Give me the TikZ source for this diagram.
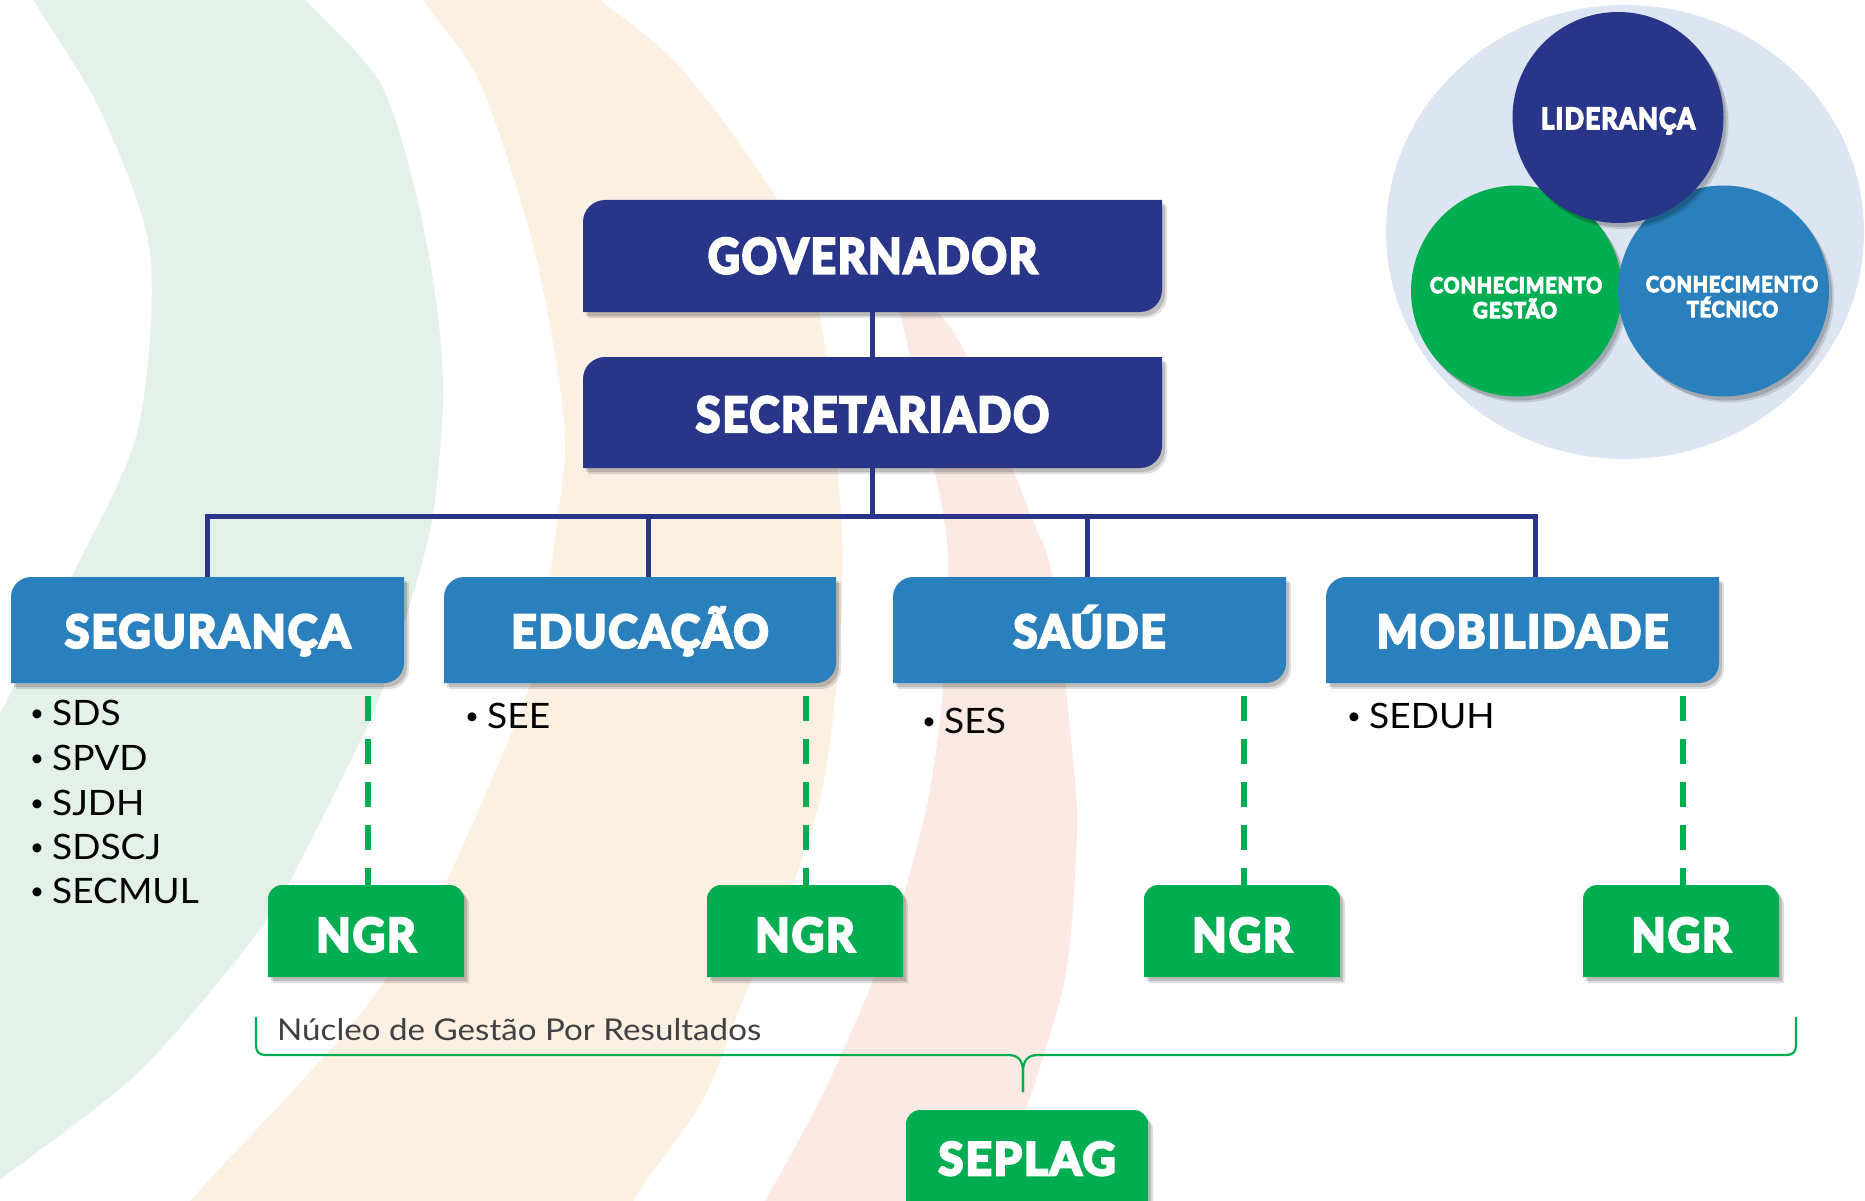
\documentclass[tikz,border=0pt]{standalone}
\usepackage{fontspec}
\setmainfont{Lato}
\newfontfamily\hfont[BoldFeatures={FakeBold=6,LetterSpace=5}]{Lato}
\usepackage{graphicx}
\usetikzlibrary{shadows}
\definecolor{navy}{HTML}{283589}
\definecolor{midblue}{HTML}{2980BD}
\definecolor{ngreen}{HTML}{00AE51}
\definecolor{bggreen}{HTML}{E4F1E9}
\definecolor{bgorange}{HTML}{FCF0E3}
\definecolor{bgpink}{HTML}{FAEAE3}
\definecolor{bgblue}{HTML}{DCE5F1}
\definecolor{txtgray}{HTML}{414042}
\newcommand\boxA[6]{\fill[#6] (#1,#4) -- (#1,#2+#5) .. controls (#1,#2+0.45*#5) and (#1+0.45*#5,#2) .. (#1+#5,#2) -- (#3,#2) -- (#3,#4-#5) .. controls (#3,#4-0.45*#5) and (#3-0.45*#5,#4) .. (#3-#5,#4) -- cycle;}
\newcommand\boxB[6]{\fill[#6] (#1,#4) -- (#1,#2+#5) .. controls (#1,#2+0.45*#5) and (#1+0.45*#5,#2) .. (#1+#5,#2) -- (#3-#5,#2) .. controls (#3-0.45*#5,#2) and (#3,#2+0.45*#5) .. (#3,#2+#5) -- (#3,#4) -- cycle;}
\newcommand\hd[3]{\fontsize{#1}{#1}\selectfont\resizebox{#2pt}{\height}{#3}}
\newcommand\itm[1]{\makebox[22pt][l]{\raisebox{4pt}{\fontsize{24}{24}\selectfont\textbullet}}\scalebox{1.06}[1]{#1}}
\tikzset{
  sh/.style={drop shadow={shadow xshift=3pt, shadow yshift=-4pt, opacity=0.16, fill=black},
             drop shadow={shadow xshift=5pt, shadow yshift=-6pt, opacity=0.12, fill=black}},
  lbl/.style={inner sep=0pt, outer sep=0pt, text=white, font=\hfont\bfseries},
  busline/.style={draw=navy, line width=5pt},
  dashln/.style={draw=ngreen, line width=6pt, dash pattern=on 25pt off 18pt},
  listtxt/.style={inner sep=0pt, anchor=base west, font=\fontsize{35}{35}\selectfont},
  brace/.style={draw=ngreen, line width=2.2pt},
  ctext/.style={inner sep=0pt, anchor=base, text=white, font=\hfont\bfseries},
  bigcirc/.style={circle, inner sep=0pt, minimum size=211pt, sh}
}
\begin{document}
\begin{tikzpicture}[x=1pt,y=-1pt]
\useasboundingbox (0,0) rectangle (1865,1201);
% ---------- background bands
\begin{scope}
\clip (0,0) rectangle (1865,1201);
\fill[bggreen] plot[smooth] coordinates {(25,-40) (34,0) (100,110) (150,253) (138,429) (77,566) (0,713) (-40,780)} -- (-60,1260) -- plot[smooth] coordinates {(-60,1230) (0,1180) (130,1080) (220,980) (283,893) (370,720) (405,620) (432,520) (443,400) (436,300) (415,190) (380,83) (306,0) (270,-40)} -- cycle;
\fill[bgorange] plot[smooth] coordinates {(400,-40) (423,0) (480,83) (530,233) (557,367) (565,450) (555,536) (538,659) (500,760) (440,893) (371,1000) (300,1083) (240,1147) (190,1201) (150,1250)} -- plot[smooth] coordinates {(600,1260) (640,1190) (703,1100) (743,1000) (787,900) (820,800) (835,700) (842,600) (840,500) (820,317) (777,200) (680,67) (600,0) (550,-40)} -- cycle;
\fill[bgpink] plot[smooth] coordinates {(893,262) (900,310) (910,357) (943,513) (948,580) (942,700) (928,800) (902,900) (865,1000) (820,1100) (765,1201) (735,1250)} -- plot[smooth] coordinates {(950,1250) (985,1201) (1017,1133) (1040,1067) (1067,967) (1077,833) (1073,760) (1053,580) (1030,513) (967,357) (937,310) (905,265)} -- cycle;
\fill[bgblue] (1625,232) ellipse [x radius=239, y radius=227];
\end{scope}
% ---------- venn circles
\node[bigcirc, fill=ngreen] (cgest) at (1516.5,291) {};
\node[bigcirc, fill=midblue] (ctec) at (1723.5,291) {};
\node[bigcirc, fill=navy] (clid) at (1618,117.5) {};
\node[ctext, font=\hfont\bfseries\fontsize{29.3}{29.3}\selectfont] (tlid) at (1618,129) {\resizebox{154pt}{\height}{LIDERANÇA}};
\node[ctext, font=\hfont\bfseries\fontsize{21.6}{21.6}\selectfont] (tg1) at (1516,293) {\resizebox{172pt}{\height}{CONHECIMENTO}};
\node[ctext, font=\hfont\bfseries\fontsize{21.6}{21.6}\selectfont] (tg2) at (1515,318) {\resizebox{84pt}{\height}{GESTÃO}};
\node[ctext, font=\hfont\bfseries\fontsize{21.6}{21.6}\selectfont] (tt1) at (1732,292) {\resizebox{172pt}{\height}{CONHECIMENTO}};
\node[ctext, font=\hfont\bfseries\fontsize{21.6}{21.6}\selectfont] (tt2) at (1732.5,317) {\resizebox{91pt}{\height}{TÉCNICO}};
% ---------- box shapes
\boxA{583}{200}{1162}{312}{22}{navy, sh}
\boxA{583}{357}{1162}{468}{22}{navy, sh}
\boxA{11}{577}{404}{683}{20}{midblue, sh}
\boxA{444}{577}{836}{683}{20}{midblue, sh}
\boxA{893}{577}{1286}{683}{20}{midblue, sh}
\boxA{1326}{577}{1719}{683}{20}{midblue, sh}
\boxB{268}{885}{464}{977}{14}{ngreen, sh}
\boxB{707}{885}{903}{977}{14}{ngreen, sh}
\boxB{1144}{885}{1340}{977}{14}{ngreen, sh}
\boxB{1583}{885}{1779}{977}{14}{ngreen, sh}
\boxB{906}{1110}{1148}{1215}{14}{ngreen, sh}
% ---------- box nodes
\node[lbl, minimum width=579pt, minimum height=112pt, text height=34.4pt, text depth=0pt] (gov) at (872.5,256) {\hd{48}{329}{GOVERNADOR}};
\node[lbl, minimum width=579pt, minimum height=111pt, text height=38.5pt, text depth=0pt] (sec) at (872.5,412.5) {\hd{48}{353}{SECRETARIADO}};
\node[lbl, minimum width=393pt, minimum height=106pt, text height=35pt, text depth=0pt] (seg) at (207.5,630) {\hd{45}{285}{SEGURANÇA}};
\node[lbl, minimum width=392pt, minimum height=106pt, text height=35pt, text depth=0pt] (edu) at (640,630) {\hd{45}{257}{EDUCAÇÃO}};
\node[lbl, minimum width=393pt, minimum height=106pt, text height=35pt, text depth=0pt] (sau) at (1089.5,630) {\hd{45}{152}{SAÚDE}};
\node[lbl, minimum width=393pt, minimum height=106pt, text height=35pt, text depth=0pt] (mob) at (1522.5,630) {\hd{45}{291}{MOBILIDADE}};
\node[lbl, minimum width=196pt, minimum height=92pt, text height=41pt, text depth=0pt] (ngr1) at (366,931) {\hd{46}{99}{NGR}};
\node[lbl, minimum width=196pt, minimum height=92pt, text height=41pt, text depth=0pt] (ngr2) at (805,931) {\hd{46}{99}{NGR}};
\node[lbl, minimum width=196pt, minimum height=92pt, text height=41pt, text depth=0pt] (ngr3) at (1242,931) {\hd{46}{99}{NGR}};
\node[lbl, minimum width=196pt, minimum height=92pt, text height=41pt, text depth=0pt] (ngr4) at (1681,931) {\hd{46}{99}{NGR}};
\node[lbl, minimum width=242pt, minimum height=92pt, text height=37.8pt, text depth=0pt] (seplag) at (1027,1156) {\hd{45}{177}{SEPLAG}};
% ---------- connectors
\coordinate (busy) at (0,516);
\draw[busline] (gov.south) -- (sec.north);
\draw[busline] (sec.south) -- (sec.south |- busy);
\draw[busline] (seg.north) |- ([xshift=12.5pt]mob.north |- busy) -- ([xshift=12.5pt]mob.north);
\draw[busline] ([xshift=8pt]edu.north) -- ([xshift=8pt]edu.north |- busy);
\draw[busline] ([xshift=-2pt]sau.north) -- ([xshift=-2pt]sau.north |- busy);
\draw[dashln] ([xshift=2pt]ngr1.north |- 0,696) -- ([xshift=2pt]ngr1.north);
\draw[dashln] ([xshift=1pt]ngr2.north |- 0,696) -- ([xshift=1pt]ngr2.north);
\draw[dashln] ([xshift=2pt]ngr3.north |- 0,696) -- ([xshift=2pt]ngr3.north);
\draw[dashln] ([xshift=2pt]ngr4.north |- 0,696) -- ([xshift=2pt]ngr4.north);
% ---------- lists
\node[listtxt] (s1) at (30,725) {\itm{SDS}};
\node[listtxt] (s2) at (30,770) {\itm{SPVD}};
\node[listtxt] (s3) at (30,815) {\itm{SJDH}};
\node[listtxt] (s4) at (30,859) {\itm{SDSCJ}};
\node[listtxt] (s5) at (30,903) {\itm{SECMUL}};
\node[listtxt] (e1) at (465,728) {\itm{SEE}};
\node[listtxt] (h1) at (922,733) {\itm{SES}};
\node[listtxt] (m1) at (1347,728) {\itm{SEDUH}};
% ---------- brace and caption
\node[inner sep=0pt, anchor=base west, text=txtgray, font=\fontsize{30}{30}\selectfont] (ngrcap) at (277,1040) {\resizebox{484pt}{\height}{Núcleo de Gestão Por Resultados}};
\coordinate (bracetip) at (1023,1092);
\draw[brace] (256,1017) -- (256,1045) .. controls (256,1052) and (259,1055) .. (266,1055) -- (1008,1055) .. controls (1018,1055) and (1023,1060) .. (1023,1072) -- (bracetip);
\draw[brace] (bracetip) -- (1023,1072) .. controls (1023,1060) and (1028,1055) .. (1038,1055) -- (1786,1055) .. controls (1793,1055) and (1796,1052) .. (1796,1045) -- (1796,1017);
\end{tikzpicture}
\end{document}
